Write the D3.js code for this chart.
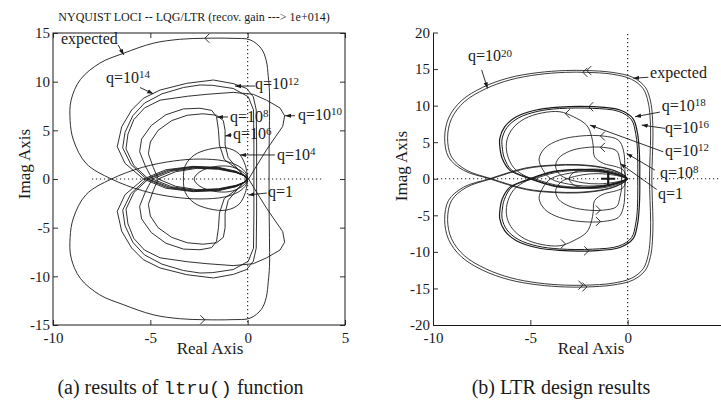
<!DOCTYPE html>
<html><head><meta charset="utf-8">
<script src="https://cdn.jsdelivr.net/npm/d3@7"></script>
<style>
body{margin:0;background:#fff;}
text{font-family:"Liberation Serif","Times New Roman",serif;fill:#1a1a1a;}
</style></head><body>
<svg id="c" width="721" height="402"></svg>
<script>
// ---------------- DATA (upper half of each Nyquist locus, omega >= 0; lower half is its conjugate) ----------------
const xTicksA = [-10, -5, 0, 5];
const yTicksA = [-15, -10, -5, 0, 5, 10, 15];
const xTicksB = [-10, -5, 0];
const yTicksB = [-20, -15, -10, -5, 0, 5, 10, 15, 20];

// panel (a): ltru() results
const expectedA = [[1.1,0],[1.1,3],[1.12,6],[1.12,9],[1.06,10.5],[0.95,12.2],[0.7,13.4],[0.12,14.3],[-0.8,14.45],[-2.2,14.46],[-3.5,14.35],[-4.85,13.95],[-6.4,12.9],[-7.6,11.9],[-8.6,10.2],[-9.07,8.1],[-9.12,6.0],[-8.95,4.0],[-8.3,1.6],[-7.0,0],[-5.4,-1.2],[-3.8,-1.85],[-2.45,-2.05],[-1.2,-1.85],[-0.45,-1.3],[-0.08,-0.6],[0,0]];
const q14A = [[0.46,0],[0.46,3.5],[0.44,7.1],[0.29,8.45],[-0.05,9.3],[-0.74,9.8],[-1.76,10.17],[-3.13,9.83],[-4.5,9.14],[-5.36,8.29],[-5.96,7.09],[-6.47,5.37],[-6.7,3.32],[-6.3,1.61],[-5.35,0],[-4.2,-0.95],[-2.8,-1.3],[-1.5,-1.2],[-0.6,-0.8],[-0.12,-0.3],[0,0]];
const q12A = [[0.32,0],[0.32,3.5],[0.3,7.1],[0.03,8.45],[-0.74,9.3],[-1.8,9.62],[-2.45,9.66],[-3.3,9.4],[-4.4,8.75],[-5.3,7.8],[-5.9,6.5],[-6.3,4.8],[-6.42,3.2],[-6.0,1.5],[-5.2,0],[-4.1,-0.9],[-2.8,-1.25],[-1.5,-1.15],[-0.6,-0.75],[-0.12,-0.3],[0,0]];
const q10A = [[0.05,0],[0.35,1.0],[0.97,3.0],[1.45,4.4],[1.8,5.4],[1.9,6.5],[1.66,7.3],[0.97,8.1],[0.29,8.7],[-0.74,8.9],[-2.1,8.7],[-3.1,8.5],[-4.5,8.1],[-5.3,7.3],[-5.85,6.1],[-6.15,4.6],[-6.25,3.1],[-5.85,1.4],[-5.1,0],[-4.0,-0.85],[-2.8,-1.2],[-1.5,-1.1],[-0.6,-0.7],[-0.12,-0.3],[0,0]];
const q8A = [[-0.05,0],[-0.45,0.9],[-1.2,2.0],[-1.45,3.5],[-1.5,5.0],[-1.6,6.4],[-1.85,7.05],[-2.45,7.27],[-3.3,7.2],[-4.2,6.6],[-4.95,5.5],[-5.45,4.1],[-5.55,2.8],[-5.25,1.3],[-4.9,0],[-3.9,-0.8],[-2.7,-1.15],[-1.5,-1.05],[-0.6,-0.7],[-0.12,-0.3],[0,0]];
const q6A = [[-0.05,0],[-0.5,1.0],[-1.0,2.2],[-1.16,3.5],[-1.16,5.0],[-1.25,6.0],[-1.6,6.55],[-2.3,6.7],[-3.1,6.55],[-3.9,6.0],[-4.6,5.0],[-5.0,3.8],[-5.1,2.6],[-4.85,1.2],[-4.6,0],[-3.7,-0.75],[-2.6,-1.1],[-1.5,-1.0],[-0.6,-0.65],[-0.12,-0.3],[0,0]];
const q4A = [[-3.3,0],[-3.2,1.4],[-2.75,2.45],[-2.0,3.05],[-1.1,3.2],[-0.45,2.6],[-0.12,1.4],[0,0]];
const q1A = [[-2.75,0],[-2.45,0.75],[-1.75,1.25],[-0.95,1.3],[-0.35,0.85],[-0.05,0.3],[0,0]];
const arrowsA = [[-2.2,14.46]];

// panel (b): LTR design results
const expectedB = [[1.12,0],[1.15,3],[1.18,6],[1.15,8.5],[1.05,10.5],[0.8,12.3],[0.2,13.6],[-0.8,14.3],[-2.1,14.55],[-3.2,14.55],[-4.6,14.25],[-6.0,13.55],[-7.3,12.3],[-8.4,10.5],[-9.05,8.2],[-9.25,5.6],[-9.05,3.0],[-8.3,1.2],[-7.0,0],[-5.2,-1.4],[-3.8,-1.8],[-2.6,-1.86],[-1.4,-1.55],[-0.6,-1.0],[-0.1,-0.3],[0,0]];
const q20B = [[1.24,0],[1.27,3],[1.3,6],[1.27,8.6],[1.17,10.65],[0.91,12.5],[0.28,13.85],[-0.8,14.55],[-2.1,14.8],[-3.2,14.8],[-4.65,14.5],[-6.1,13.8],[-7.45,12.5],[-8.55,10.65],[-9.2,8.3],[-9.4,5.6],[-9.2,2.95],[-8.43,1.15],[-7.1,0],[-5.25,-1.47],[-3.8,-1.88],[-2.6,-1.94],[-1.4,-1.62],[-0.6,-1.05],[-0.1,-0.32],[0,0]];
const q18B = [[0.62,0],[0.62,2.1],[0.58,4.5],[0.5,6.3],[0.28,8.2],[-0.4,9.4],[-1.8,9.85],[-3.5,9.8],[-4.7,9.4],[-5.72,8.47],[-6.32,7.1],[-6.57,5.5],[-6.55,4.0],[-6.45,2.8],[-6.06,1.18],[-5.03,0],[-3.8,-1.0],[-2.5,-1.3],[-1.3,-1.1],[-0.5,-0.6],[-0.08,-0.15],[0,0]];
const q16B = [[0.52,0],[0.52,2.1],[0.49,4.5],[0.41,6.2],[0.2,8.05],[-0.45,9.2],[-1.8,9.63],[-3.5,9.6],[-4.65,9.2],[-5.62,8.3],[-6.2,7.0],[-6.45,5.45],[-6.43,4.0],[-6.33,2.8],[-5.95,1.15],[-4.93,0],[-3.75,-0.96],[-2.5,-1.25],[-1.3,-1.05],[-0.5,-0.57],[-0.08,-0.14],[0,0]];
const q12B = [[-0.1,0],[-0.22,1.18],[-0.57,1.63],[-1.25,2.1],[-1.7,3.0],[-1.77,4.5],[-1.85,5.74],[-2.1,7.3],[-2.8,8.5],[-3.48,9.16],[-4.4,9.0],[-5.3,8.2],[-5.9,6.9],[-6.2,5.3],[-6.2,3.5],[-5.85,1.5],[-5.2,0.3],[-4.8,0],[-3.7,-0.85],[-2.5,-1.15],[-1.3,-0.95],[-0.5,-0.5],[0,0]];
const q8B = [[-0.14,0],[-0.14,1.18],[-0.22,3.92],[-0.48,5.29],[-1.25,5.84],[-2.4,5.85],[-3.5,5.3],[-4.25,4.2],[-4.55,2.7],[-4.35,1.2],[-3.95,0],[-3.0,-0.75],[-2.0,-1.0],[-1.0,-0.8],[-0.35,-0.4],[0,0]];
const q1B = [[-0.31,0],[-0.31,1.18],[-0.4,2.55],[-0.57,3.82],[-1.25,4.29],[-2.2,4.25],[-3.0,3.75],[-3.55,2.8],[-3.7,1.6],[-3.45,0.5],[-3.1,0],[-2.3,-0.55],[-1.5,-0.7],[-0.7,-0.5],[-0.2,-0.2],[0,0]];
const innerB = [[-3.0,0],[-2.8,0.8],[-2.2,1.25],[-1.3,1.25],[-0.5,0.75],[-0.1,0.2],[0,0]];
const arrowsB = [[-2.3,14.55],[-2.1,14.8],[-2.0,9.85],[-3.2,8.9],[-1.4,5.84],[-1.4,4.29]];
const plusB = [[-1.0,0]];

// ---------------- DRAWING ----------------
const ink = "#1a1a1a";
const svg = d3.select("#c");
const conj = up => [...up.slice().reverse().map(([x,y]) => [x,-y]), ...up.slice(1)];

const xA = d3.scaleLinear().domain([-10,5]).range([53,345]);
const yA = d3.scaleLinear().domain([-15,15]).range([325,33]);
const xB = d3.scaleLinear().domain([-10,5]).range([433,725]);
const yB = d3.scaleLinear().domain([-20,20]).range([325,32.5]);

const defs = svg.append("defs");
defs.append("marker").attr("id","ah").attr("viewBox","0 0 10 10").attr("refX",10).attr("refY",5)
  .attr("markerWidth",6).attr("markerHeight",6).attr("markerUnits","userSpaceOnUse").attr("orient","auto")
  .append("path").attr("d","M0,1.5L10,5L0,8.5z").attr("fill",ink);

function styleAxis(g, fs){
  g.selectAll("line").attr("stroke",ink).attr("stroke-width",0.9);
  g.selectAll("path.domain").attr("stroke",ink).attr("stroke-width",1);
  g.selectAll("text").attr("font-size",fs).attr("font-family","Liberation Serif").attr("fill",ink);
}
const fmt = d => String(d);

function dotted(g, x1,y1,x2,y2){
  g.append("line").attr("x1",x1).attr("y1",y1).attr("x2",x2).attr("y2",y2)
   .attr("stroke",ink).attr("stroke-width",1.1).attr("stroke-dasharray","1.2,2.8");
}
function drawCurves(g, xs, ys, list){
  list.forEach(c => {
    const gen = d3.line().x(d=>xs(d[0])).y(d=>ys(d[1])).curve(c.curve);
    g.append("path").attr("d", gen(conj(c.pts))).attr("fill","none")
     .attr("stroke",ink).attr("stroke-width",c.w).attr("stroke-linejoin","round");
  });
}
function drawChevrons(g, xs, ys, arr){
  arr.forEach(([x,y]) => {
    [[x,y,1],[x,-y,-1]].forEach(([ax,ay,dir]) => {
      const px = xs(ax), py = ys(ay), s = 4.5*dir;
      g.append("path").attr("d",`M${px+s},${py-4.5}L${px},${py}L${px+s},${py+4.5}`)
       .attr("fill","none").attr("stroke",ink).attr("stroke-width",0.9);
    });
  });
}
function qLabel(g, xs, ys, a){
  const t = g.append("text").attr("x",xs(a.tx)).attr("y",ys(a.ty)).attr("font-size",16);
  t.append("tspan").text(a.base);
  if(a.sup) t.append("tspan").attr("dy","-0.45em").attr("font-size","11px").text(a.sup);
  if(a.from) g.append("line").attr("x1",xs(a.from[0])).attr("y1",ys(a.from[1]))
      .attr("x2",xs(a.to[0])).attr("y2",ys(a.to[1])).attr("stroke",ink).attr("stroke-width",0.9)
      .attr("marker-end","url(#ah)");
}

// ---- panel (a)
const gA = svg.append("g");
gA.append("text").attr("x",194).attr("y",20.5).attr("text-anchor","middle").attr("font-size",12)
  .text("NYQUIST LOCI -- LQG/LTR (recov. gain ---> 1e+014)");
dotted(gA, xA(-8), yA(0), xA(3.9), yA(0));
dotted(gA, xA(0), yA(15), xA(0), yA(-15));
const lin = d3.curveLinear, smooth = d3.curveCatmullRom.alpha(0.5);
drawCurves(gA, xA, yA, [
  {pts:expectedA, curve:smooth, w:0.9},
  {pts:q14A, curve:lin, w:0.9},
  {pts:q12A, curve:lin, w:0.9},
  {pts:q10A, curve:lin, w:0.9},
  {pts:q8A, curve:lin, w:0.9},
  {pts:q6A, curve:lin, w:0.9},
  {pts:q4A, curve:smooth, w:0.9},
  {pts:q1A, curve:smooth, w:0.9}
]);
drawChevrons(gA, xA, yA, arrowsA);
gA.append("rect").attr("x",xA(-10)).attr("y",yA(15)).attr("width",xA(5)-xA(-10)).attr("height",yA(-15)-yA(15))
  .attr("fill","none").attr("stroke",ink).attr("stroke-width",1);
styleAxis(gA.append("g").attr("transform",`translate(0,${yA(-15)})`)
  .call(d3.axisBottom(xA).tickValues(xTicksA).tickSize(-5).tickSizeOuter(0).tickPadding(7).tickFormat(fmt)), 15);
styleAxis(gA.append("g").attr("transform",`translate(0,${yA(15)})`)
  .call(d3.axisTop(xA).tickValues(xTicksA).tickSize(-5).tickSizeOuter(0).tickFormat("")), 15);
styleAxis(gA.append("g").attr("transform",`translate(${xA(-10)},0)`)
  .call(d3.axisLeft(yA).tickValues(yTicksA).tickSize(-5).tickSizeOuter(0).tickPadding(3).tickFormat(fmt)), 15);
styleAxis(gA.append("g").attr("transform",`translate(${xA(5)},0)`)
  .call(d3.axisRight(yA).tickValues(yTicksA).tickSize(-5).tickSizeOuter(0).tickFormat("")), 15);
gA.selectAll(".domain").remove();
gA.append("text").attr("x",210).attr("y",354).attr("text-anchor","middle").attr("font-size",17).text("Real Axis");
gA.append("text").attr("transform","translate(30,164) rotate(-90)").attr("text-anchor","middle").attr("font-size",17).text("Imag Axis");
[
  {base:"expected", tx:-9.59, ty:13.87, from:[-6.66,13.77], to:[-6.36,12.75]},
  {base:"q=10", sup:"14", tx:-7.28, ty:9.86, from:[-5.53,9.4], to:[-4.85,8.75]},
  {base:"q=10", sup:"12", tx:0.38, ty:9.2, from:[0.38,9.55], to:[-0.65,9.55]},
  {base:"q=10", sup:"10", tx:2.59, ty:6.11, from:[2.43,6.5], to:[1.92,6.5]},
  {base:"q=10", sup:"8", tx:-0.91, ty:5.86, from:[-1.01,6.37], to:[-1.58,6.37]},
  {base:"q=10", sup:"6", tx:-0.75, ty:4.06, from:[-0.82,4.52], to:[-1.16,4.42]},
  {base:"q=10", sup:"4", tx:1.51, ty:2.0, from:[1.4,2.47], to:[-0.39,2.47]},
  {base:"q=1", tx:1.04, ty:-1.8, from:[0.98,-1.44], to:[0.03,-1.64]}
].forEach(a => qLabel(gA, xA, yA, a));
const capA = gA.append("text").attr("x",180.5).attr("y",394).attr("text-anchor","middle").attr("font-size",20);
capA.append("tspan").text("(a) results of ");
capA.append("tspan").attr("font-family","Liberation Mono").attr("font-size",19).text("ltru()");
capA.append("tspan").text(" function");

// ---- panel (b)
const gB = svg.append("g");
dotted(gB, xB(-10), yB(0), 721, yB(0));
dotted(gB, xB(0), yB(19.8), xB(0), yB(-20));
drawCurves(gB, xB, yB, [
  {pts:expectedB, curve:smooth, w:0.85},
  {pts:q20B, curve:smooth, w:0.85},
  {pts:q18B, curve:smooth, w:1.2},
  {pts:q16B, curve:smooth, w:1.0},
  {pts:q12B, curve:smooth, w:0.85},
  {pts:q8B, curve:smooth, w:0.85},
  {pts:q1B, curve:smooth, w:0.85},
  {pts:innerB, curve:smooth, w:0.85}
]);
drawChevrons(gB, xB, yB, arrowsB);
plusB.forEach(([x,y]) => {
  const px = xB(x), py = yB(y);
  gB.append("path").attr("d",`M${px-7},${py}H${px+7}M${px},${py-7}V${py+7}`).attr("stroke",ink).attr("stroke-width",2.2);
});
styleAxis(gB.append("g").attr("transform",`translate(0,${yB(-20)})`)
  .call(d3.axisBottom(xB).tickValues(xTicksB).tickSize(-5).tickSizeOuter(0).tickPadding(7).tickFormat(fmt)), 15);
styleAxis(gB.append("g").attr("transform",`translate(${xB(-10)},0)`)
  .call(d3.axisLeft(yB).tickValues(yTicksB).tickSize(-5).tickSizeOuter(0).tickPadding(3).tickFormat(fmt)), 15);
gB.append("text").attr("x",591).attr("y",354).attr("text-anchor","middle").attr("font-size",17).text("Real Axis");
gB.append("text").attr("transform","translate(407,166) rotate(-90)").attr("text-anchor","middle").attr("font-size",17).text("Imag Axis");
[
  {base:"q=10", sup:"20", tx:-8.2, ty:16.04, from:[-7.5,14.88], to:[-7.2,12.35]},
  {base:"expected", tx:1.15, ty:13.78, from:[1.06,13.88], to:[0.29,13.74]},
  {base:"q=10", sup:"18", tx:1.75, ty:9.26, from:[1.66,9.12], to:[0.38,8.48]},
  {base:"q=10", sup:"16", tx:1.92, ty:6.25, from:[1.92,6.89], to:[0.72,7.34]},
  {base:"q=10", sup:"12", tx:1.92, ty:3.1, from:[1.83,3.68], to:[-1.94,7.34]},
  {base:"q=10", sup:"8", tx:1.66, ty:0.08, from:[1.4,1.18], to:[-0.05,3.47]},
  {base:"q=1", tx:1.56, ty:-2.8, from:[1.49,-1.47], to:[-0.39,2.1]}
].forEach(a => qLabel(gB, xB, yB, a));
gB.append("text").attr("x",561).attr("y",394).attr("text-anchor","middle").attr("font-size",20).text("(b) LTR design results");
</script>
</body></html>
